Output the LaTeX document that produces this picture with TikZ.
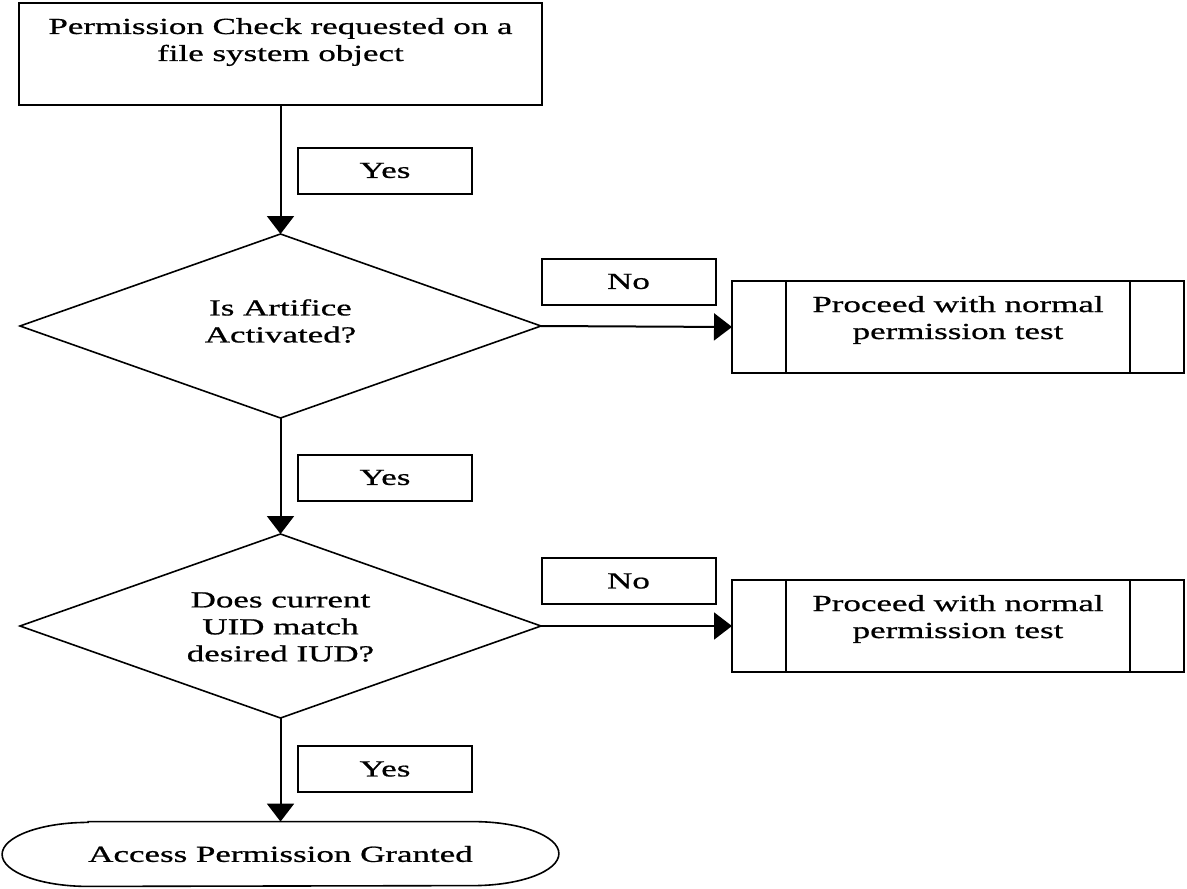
\documentclass[tikz,border=0pt]{standalone}
\usepackage{fontspec}
\setmainfont[FakeStretch=1.52, FakeBold=0.8]{Liberation Serif}
\usetikzlibrary{shapes.geometric,arrows.meta}

\begin{document}
\begin{tikzpicture}[x=0.5pt, y=-0.5pt,
		txt/.style={font=\fontsize{11.5}{13.5}\selectfont, align=center, inner sep=0pt},
		box/.style={draw, line width=1pt, inner sep=0pt, outer sep=0pt},
		tag/.style={box, txt, minimum width=87pt, minimum height=23pt},
		decision/.style={draw, diamond, line width=0.8pt, inner sep=0pt, outer sep=0pt, minimum width=260.5pt, minimum height=92pt},
		process/.style={box, minimum width=226pt, minimum height=46pt,
			path picture={\draw[line width=1pt] ([xshift=27pt]path picture bounding box.north west) -- ([xshift=27pt]path picture bounding box.south west);
				\draw[line width=1pt] ([xshift=-27pt]path picture bounding box.north east) -- ([xshift=-27pt]path picture bounding box.south east);}},
		flow/.style={line width=1pt, -{Triangle[length=9pt, width=13.5pt]}}]
	\useasboundingbox (0,0) rectangle (1187,888);
	% start of the check
	\node[box, minimum width=261.5pt, minimum height=51pt] (start) at (280.5,54) {};
	\node[txt] (startText) at (280.5,42) {Permission Check requested on a\\file system object};
	% the two questions
	\node[decision] (artifice) at (280.5,326) {};
	\node[txt] (artificeText) at (280.5,321) {Is Artifice\\Activated?};
	\node[decision] (uid) at (280.5,626) {};
	\node[txt] (uidText) at (280.5,627) {Does current\\UID match\\desired IUD?};
	% normal test on a No
	\node[process] (normalA) at (958,327) {};
	\node[txt] (normalAText) at (958,320) {Proceed with normal\\permission test};
	\node[process] (normalB) at (958,626) {};
	\node[txt] (normalBText) at (958,619) {Proceed with normal\\permission test};
	% end
	\node[txt, minimum width=278pt, minimum height=32pt] (grant) at (280.5,854) {Access Permission Granted};
	\draw[line width=0.8pt] ([xshift=43pt]grant.north west) -- ([xshift=-43pt]grant.north east)
		arc[start angle=90, end angle=-90, x radius=43pt, y radius=16pt]
		-- ([xshift=43pt]grant.south west)
		arc[start angle=270, end angle=90, x radius=43pt, y radius=16pt] -- cycle;
	% Yes and No tags
	\node[tag] (yesA) at (385,170.5) {Yes};
	\node[tag] (yesB) at (385,477.5) {Yes};
	\node[tag] (yesC) at (385,769) {Yes};
	\node[tag] (noA) at (628.5,281.5) {No};
	\node[tag] (noB) at (628.5,581) {No};
	% flow
	\draw[flow] (start.south) -- (artifice.north);
	\draw[flow] (artifice.south) -- (uid.north);
	\draw[flow] (uid.south) -- (grant.north);
	\draw[flow] (artifice.east) -- (normalA.west);
	\draw[flow] (uid.east) -- (normalB.west);
\end{tikzpicture}
\end{document}
